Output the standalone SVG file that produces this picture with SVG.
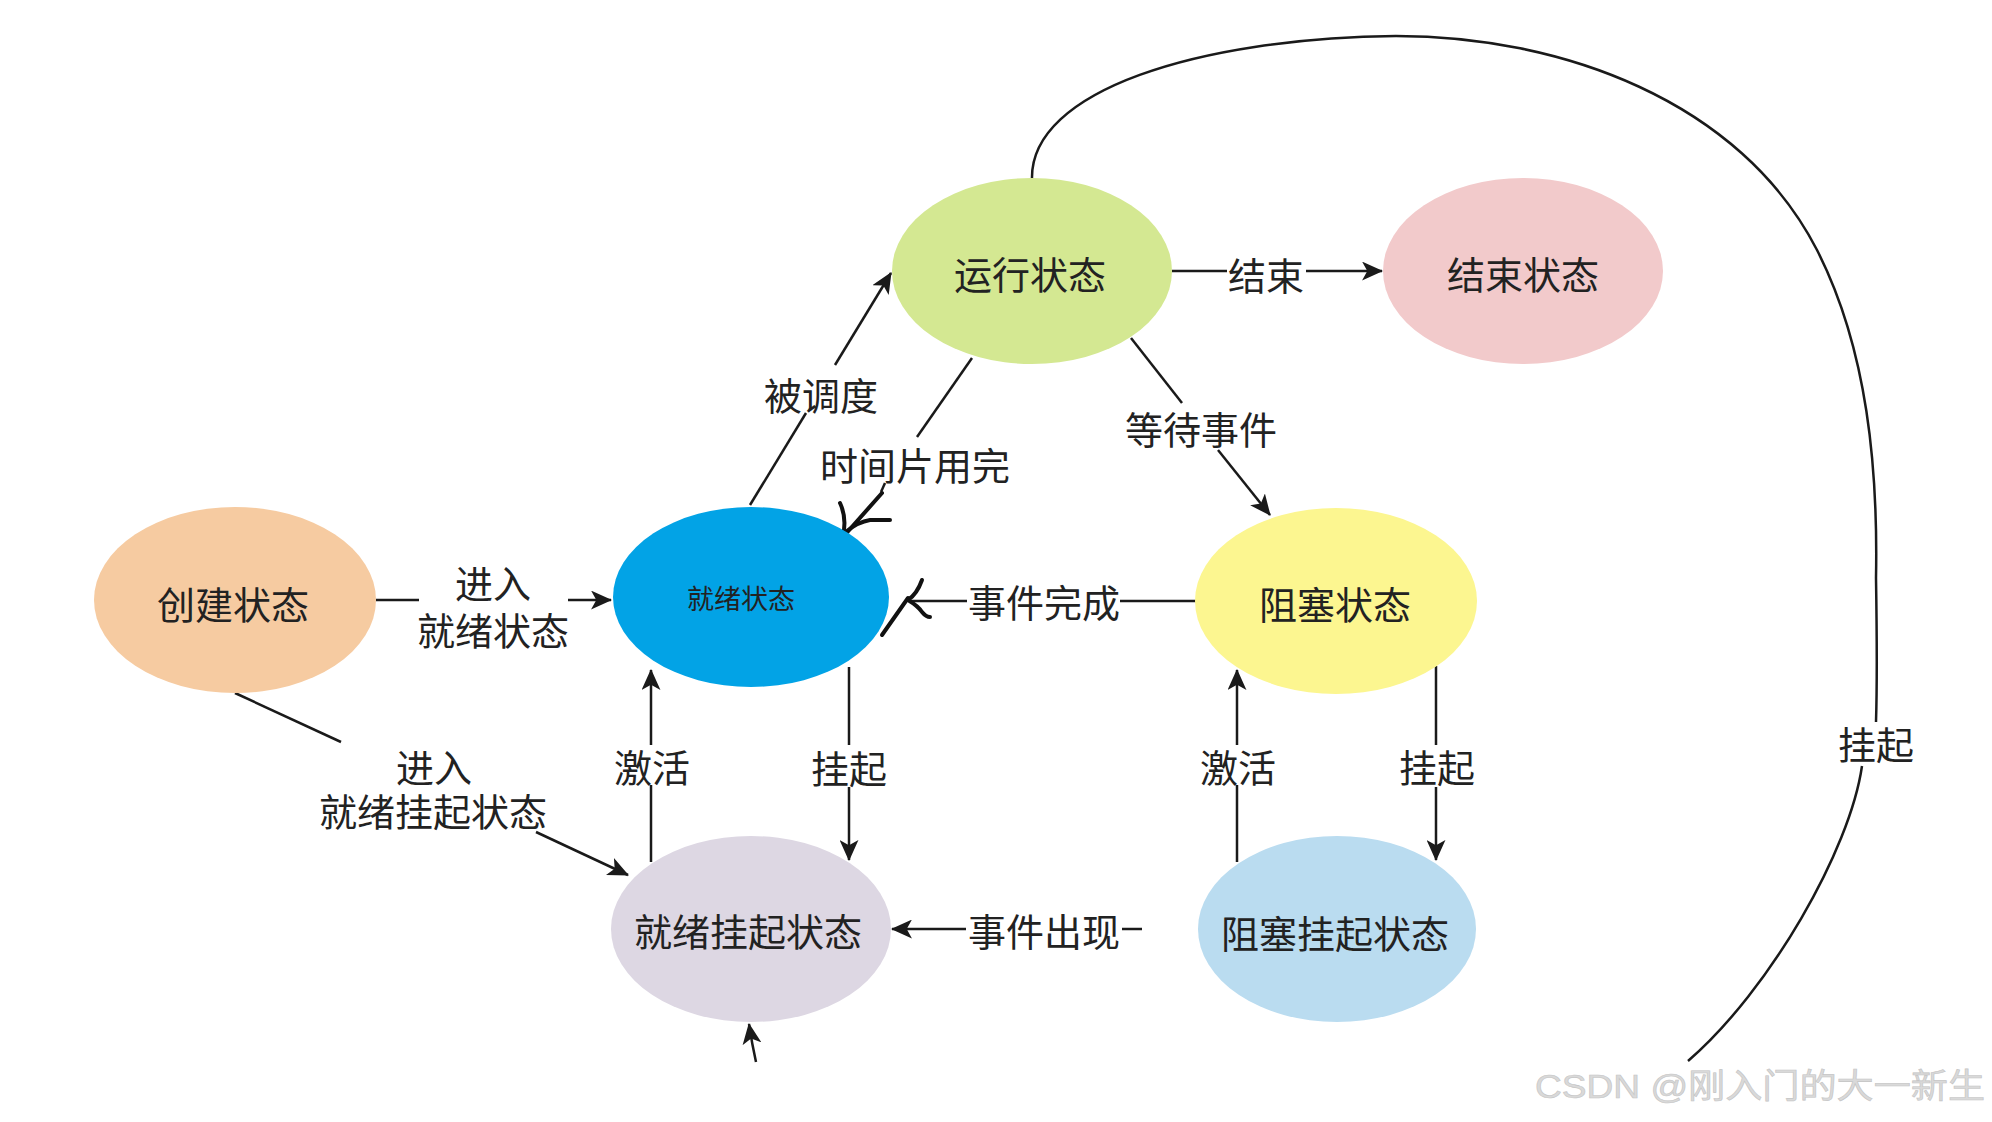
<svg xmlns="http://www.w3.org/2000/svg" width="1992" height="1122" viewBox="0 0 1992 1122">
  <defs>
    <marker id="arr" viewBox="0 0 20 18" refX="19" refY="9" markerWidth="21" markerHeight="19" orient="auto" markerUnits="userSpaceOnUse">
      <path d="M0,0 L20,9 L0,18 L5,9 Z" fill="#1a1a1a"/>
    </marker>
    <style>
      .lbl { font-family: "Noto Sans CJK SC", "Noto Sans", sans-serif; font-size: 38px; fill: #222; text-anchor: middle; dominant-baseline: central; }
      .small { font-size: 27px; }
      .ln { fill: none; stroke: #1a1a1a; stroke-width: 2.5; }
      .hand { fill: none; stroke: #111; stroke-width: 4; stroke-linecap: round; stroke-linejoin: round; }
      .wm { font-family: "Liberation Sans", "Noto Sans CJK SC", sans-serif; font-size: 34px; fill: #d9d9d9; stroke: #c4c4c4; stroke-width: 0.6; }
    </style>
  </defs>
  <rect width="1992" height="1122" fill="#ffffff"/>

  <g id="connectors">
    <!-- 创建 -> 就绪 -->
    <line class="ln" x1="376" y1="600" x2="419" y2="600"/>
    <line class="ln" x1="568" y1="600" x2="611" y2="600" marker-end="url(#arr)"/>
    <!-- 创建 -> 就绪挂起 -->
    <line class="ln" x1="235" y1="693" x2="341" y2="742"/>
    <line class="ln" x1="536" y1="832" x2="628" y2="875" marker-end="url(#arr)"/>
    <!-- 就绪 -> 运行 被调度 -->
    <line class="ln" x1="750" y1="505" x2="806" y2="413"/>
    <line class="ln" x1="835" y1="365" x2="891" y2="273" marker-end="url(#arr)"/>
    <!-- 运行 -> 就绪 时间片用完 -->
    <line class="ln" x1="972" y1="358" x2="917" y2="437"/>
    <line class="ln" x1="885" y1="483" x2="881" y2="492"/>
    <path class="hand" d="M882,493 L843,537"/>
    <path class="hand" stroke-width="3" d="M840,503 Q847,518 843,535"/>
    <path class="hand" stroke-width="3" d="M847,531 Q858,522 870,520 L890,520"/>
    <!-- 运行 -> 结束 -->
    <line class="ln" x1="1172" y1="271" x2="1227" y2="271"/>
    <line class="ln" x1="1306" y1="271" x2="1382" y2="271" marker-end="url(#arr)"/>
    <!-- 运行 -> 阻塞 等待事件 -->
    <line class="ln" x1="1131" y1="338" x2="1182" y2="403"/>
    <line class="ln" x1="1218" y1="450" x2="1270" y2="515" marker-end="url(#arr)"/>
    <!-- 阻塞 -> 就绪 事件完成 -->
    <line class="ln" x1="1197" y1="601" x2="1120" y2="601"/>
    <line class="ln" x1="967" y1="601" x2="910" y2="601"/>
    <path class="hand" d="M908,598 L882,635"/>
    <path class="hand" stroke-width="3" d="M922,580 Q917,594 908,600 Q918,606 922,612 Q926,617 930,617"/>
    <!-- 就绪挂起 -> 就绪 激活 -->
    <line class="ln" x1="651" y1="862" x2="651" y2="785"/>
    <line class="ln" x1="651" y1="745" x2="651" y2="670" marker-end="url(#arr)"/>
    <!-- 就绪 -> 就绪挂起 挂起 -->
    <line class="ln" x1="849" y1="667" x2="849" y2="745"/>
    <line class="ln" x1="849" y1="787" x2="849" y2="860" marker-end="url(#arr)"/>
    <!-- 阻塞挂起 -> 阻塞 激活 -->
    <line class="ln" x1="1237" y1="862" x2="1237" y2="785"/>
    <line class="ln" x1="1237" y1="745" x2="1237" y2="670" marker-end="url(#arr)"/>
    <!-- 阻塞 -> 阻塞挂起 挂起 -->
    <line class="ln" x1="1436" y1="666" x2="1436" y2="745"/>
    <line class="ln" x1="1436" y1="787" x2="1436" y2="860" marker-end="url(#arr)"/>
    <!-- 阻塞挂起 -> 就绪挂起 事件出现 -->
    <line class="ln" x1="1142" y1="929" x2="1122" y2="929"/>
    <line class="ln" x1="966" y1="929" x2="892" y2="929" marker-end="url(#arr)"/>
    <!-- into 就绪挂起 from below -->
    <path class="ln" d="M756,1062 Q752,1044 749,1024" marker-end="url(#arr)"/>
    <!-- 运行 -> 挂起 big curve -->
    <path class="ln" d="M1032,179 C1030,90 1200,38 1396,36 C1560,36 1740,100 1817,250 C1868,350 1878,470 1876,578 C1877,640 1877,690 1876,722"/>
    <path class="ln" d="M1862,766 C1850,850 1770,990 1688,1061"/>
  </g>

  <g id="labels">
    <text class="lbl" x="1266" y="273">结束</text>
    <text class="lbl" x="821" y="393">被调度</text>
    <text class="lbl" x="915" y="463">时间片用完</text>
    <text class="lbl" x="1201" y="427">等待事件</text>
    <text class="lbl" x="493" y="581">进入<tspan x="493" dy="47">就绪状态</tspan></text>
    <text class="lbl" x="1044" y="600">事件完成</text>
    <text class="lbl" x="434" y="765">进入<tspan x="433" dy="44">就绪挂起状态</tspan></text>
    <text class="lbl" x="652" y="765">激活</text>
    <text class="lbl" x="849" y="766">挂起</text>
    <text class="lbl" x="1238" y="765">激活</text>
    <text class="lbl" x="1437" y="765">挂起</text>
    <text class="lbl" x="1044" y="929">事件出现</text>
    <text class="lbl" x="1876" y="742">挂起</text>
  </g>

  <g id="node-create">
    <ellipse cx="235" cy="600" rx="141" ry="93" fill="#F6CBA1"/>
    <text class="lbl" x="233" y="602">创建状态</text>
  </g>
  <g id="node-ready">
    <ellipse cx="751" cy="597" rx="138" ry="90" fill="#02A3E6"/>
    <text class="lbl small" x="741" y="597">就绪状态</text>
  </g>
  <g id="node-running">
    <ellipse cx="1032" cy="271" rx="140" ry="93" fill="#D4E892"/>
    <text class="lbl" x="1030" y="272">运行状态</text>
  </g>
  <g id="node-end">
    <ellipse cx="1523" cy="271" rx="140" ry="93" fill="#F2CACB"/>
    <text class="lbl" x="1523" y="272">结束状态</text>
  </g>
  <g id="node-blocked">
    <ellipse cx="1336" cy="601" rx="141" ry="93" fill="#FCF690"/>
    <text class="lbl" x="1335" y="602">阻塞状态</text>
  </g>
  <g id="node-ready-suspend">
    <ellipse cx="751" cy="929" rx="140" ry="93" fill="#DDD7E3"/>
    <text class="lbl" x="748" y="929">就绪挂起状态</text>
  </g>
  <g id="node-blocked-suspend">
    <ellipse cx="1337" cy="929" rx="139" ry="93" fill="#BADCF0"/>
    <text class="lbl" x="1335" y="931">阻塞挂起状态</text>
  </g>

  <text class="wm" x="1535" y="1098" textLength="450" lengthAdjust="spacingAndGlyphs">CSDN @刚入门的大一新生</text>
</svg>
